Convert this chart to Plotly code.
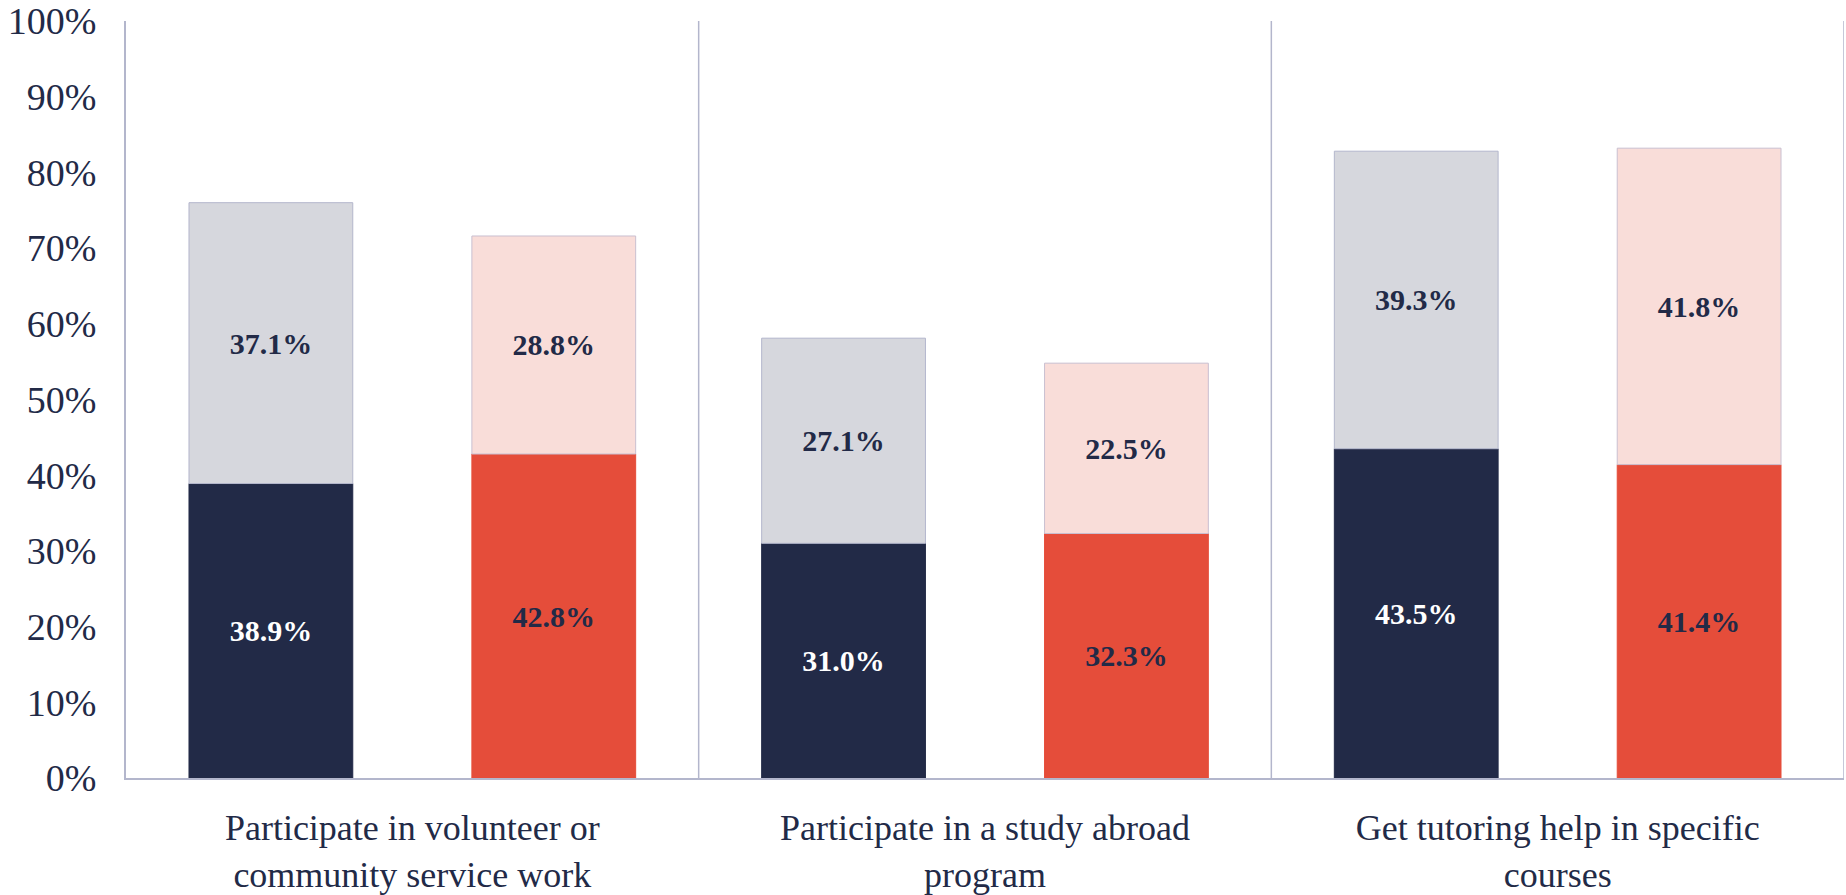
"""Stacked pair bars: participation by activity."""

import plotly.graph_objects as go

categories = [
    "Participate in volunteer or<br>community service work",
    "Participate in a study abroad<br>program",
    "Get tutoring help in specific<br>courses",
]
navy_vals = [38.9, 31.0, 43.5]
grey_vals = [37.1, 27.1, 39.3]
red_vals = [42.8, 32.3, 41.4]
pink_vals = [28.8, 22.5, 41.8]
y_ticks = [0, 10, 20, 30, 40, 50, 60, 70, 80, 90, 100]

NAVY = "#222a47"
GREY = "#d6d7dd"
RED = "#e54d3a"
PINK = "#f9ddd9"
EDGE = "#b3b6cc"
FONT = "Liberation Serif"

BAR_W = 0.286
LBL = 30


def pct(vals):
    return [f"{v:.1f}%" for v in vals]


fig = go.Figure()

# left pair: navy + grey on top
fig.add_trace(go.Bar(
    x=categories, y=navy_vals, width=BAR_W, offset=-0.39,
    marker=dict(color=NAVY, line=dict(color=NAVY, width=1)),
    text=pct(navy_vals), textposition="inside", insidetextanchor="middle",
    textfont=dict(color="white", size=LBL, family=FONT, weight="bold"),
    textangle=0,
))
fig.add_trace(go.Bar(
    x=categories, y=grey_vals, base=navy_vals, width=BAR_W, offset=-0.39,
    marker=dict(color=GREY, line=dict(color=EDGE, width=1)),
    text=pct(grey_vals), textposition="inside", insidetextanchor="middle",
    textfont=dict(color=NAVY, size=LBL, family=FONT, weight="bold"),
    textangle=0,
))

# right pair: red + pink on top
fig.add_trace(go.Bar(
    x=categories, y=red_vals, width=BAR_W, offset=0.104,
    marker=dict(color=RED, line=dict(color=RED, width=1)),
    text=pct(red_vals), textposition="inside", insidetextanchor="middle",
    textfont=dict(color=NAVY, size=LBL, family=FONT, weight="bold"),
    textangle=0,
))
fig.add_trace(go.Bar(
    x=categories, y=pink_vals, base=red_vals, width=BAR_W, offset=0.104,
    marker=dict(color=PINK, line=dict(color="#c9bfd0", width=1)),
    text=pct(pink_vals), textposition="inside", insidetextanchor="middle",
    textfont=dict(color=NAVY, size=LBL, family=FONT, weight="bold"),
    textangle=0,
))

# dividers between the activity groups, plus right edge
for xv in [0.5, 1.5, 2.5]:
    fig.add_shape(type="line", xref="x", yref="paper",
                  x0=xv, x1=xv, y0=0, y1=1,
                  line=dict(color=EDGE, width=1.5))

fig.update_layout(
    barmode="overlay",
    showlegend=False,
    width=1846, height=895,
    margin=dict(l=126, r=2, t=21, b=117, autoexpand=False),
    plot_bgcolor="white",
    paper_bgcolor="white",
    font=dict(family=FONT, color=NAVY, size=36),
)

fig.update_xaxes(
    range=[-0.5, 2.5],
    showline=True, linecolor=EDGE, linewidth=2,
    showgrid=False, ticks="",
    tickfont=dict(size=36, family=FONT, color=NAVY),
    ticklabelstandoff=17,
)
fig.update_yaxes(
    range=[0, 100],
    tickvals=y_ticks, ticktext=[f"{t}%" for t in y_ticks],
    showline=True, linecolor=EDGE, linewidth=2,
    showgrid=False, zeroline=False, ticks="",
    tickfont=dict(size=38, family=FONT, color=NAVY),
    ticklabelstandoff=20,
)

# drop the default 8px body margin so the figure fills the window
fig.write_html(
    "out.html",
    config={"displayModeBar": False},
    post_script="document.body.style.margin = '0';",
)
